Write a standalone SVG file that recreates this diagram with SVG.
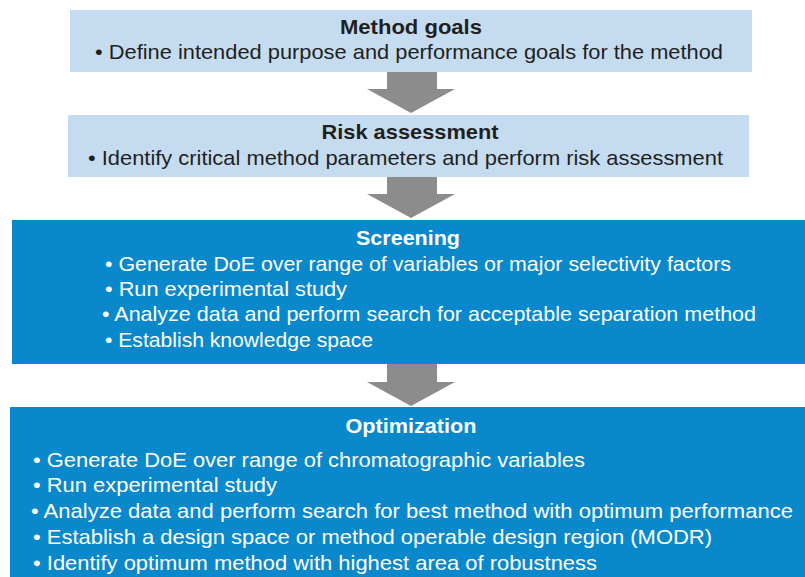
<svg xmlns="http://www.w3.org/2000/svg" width="805" height="577" viewBox="0 0 805 577">
<style>
.light{fill:#c5dcf0}
.dark{fill:#0a88cc}
.arrow{fill:#8c8c8c}
text{font-family:"Liberation Sans",Arial,sans-serif;font-size:21px}
.t{font-weight:bold;text-anchor:middle}
.dk{fill:#1f1f1f}
.wh{fill:#ffffff}
</style>
<rect width="805" height="577" fill="#ffffff"/>
<g id="connectors">
<polygon class="arrow" points="387,72 437,72 437,89 455,89 411,113 367,89 387,89"/>
<polygon class="arrow" points="387,177 437,177 437,194 455,194 411,218 367,194 387,194"/>
<polygon class="arrow" points="387,364 437,364 437,382 455,382 411,406 367,382 387,382"/>
</g>
<g id="method-goals">
<rect class="light" x="70" y="10" width="682" height="62"/>
<text class="t dk" x="411" y="34" textLength="142" lengthAdjust="spacingAndGlyphs">Method goals</text>
<text class="dk" x="95" y="59" textLength="628" lengthAdjust="spacingAndGlyphs">• Define intended purpose and performance goals for the method</text>
</g>
<g id="risk-assessment">
<rect class="light" x="68" y="115" width="681" height="62"/>
<text class="t dk" x="410" y="139" textLength="177" lengthAdjust="spacingAndGlyphs">Risk assessment</text>
<text class="dk" x="88" y="165" textLength="635" lengthAdjust="spacingAndGlyphs">• Identify critical method parameters and perform risk assessment</text>
</g>
<g id="screening">
<rect class="dark" x="12" y="220" width="793" height="144"/>
<text class="t wh" x="408" y="245" textLength="104" lengthAdjust="spacingAndGlyphs">Screening</text>
<text class="wh" x="105" y="271" textLength="626" lengthAdjust="spacingAndGlyphs">• Generate DoE over range of variables or major selectivity factors</text>
<text class="wh" x="105" y="296" textLength="242" lengthAdjust="spacingAndGlyphs">• Run experimental study</text>
<text class="wh" x="102" y="321" textLength="654" lengthAdjust="spacingAndGlyphs">• Analyze data and perform search for acceptable separation method</text>
<text class="wh" x="105" y="347" textLength="268" lengthAdjust="spacingAndGlyphs">• Establish knowledge space</text>
</g>
<g id="optimization">
<rect class="dark" x="10" y="407" width="795" height="170"/>
<text class="t wh" x="411" y="433" textLength="131" lengthAdjust="spacingAndGlyphs">Optimization</text>
<text class="wh" x="33" y="467" textLength="552" lengthAdjust="spacingAndGlyphs">• Generate DoE over range of chromatographic variables</text>
<text class="wh" x="33" y="492" textLength="244" lengthAdjust="spacingAndGlyphs">• Run experimental study</text>
<text class="wh" x="31" y="518" textLength="762" lengthAdjust="spacingAndGlyphs">• Analyze data and perform search for best method with optimum performance</text>
<text class="wh" x="33" y="544" textLength="679" lengthAdjust="spacingAndGlyphs">• Establish a design space or method operable design region (MODR)</text>
<text class="wh" x="33" y="570" textLength="564" lengthAdjust="spacingAndGlyphs">• Identify optimum method with highest area of robustness</text>
</g>
</svg>
